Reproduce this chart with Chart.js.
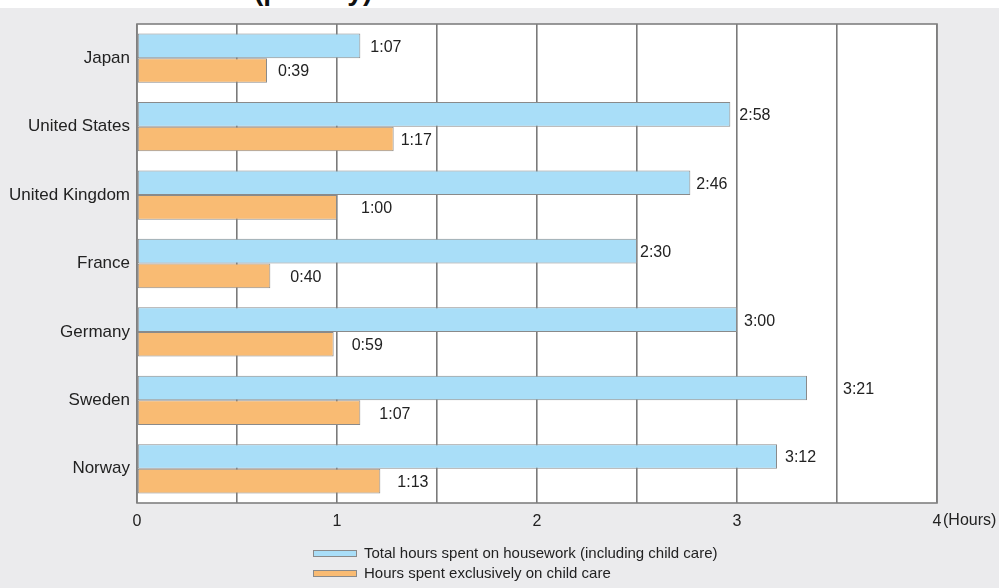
<!DOCTYPE html>
<html>
<head>
<meta charset="utf-8">
<script src="https://cdn.jsdelivr.net/npm/chart.js@4.4.1/dist/chart.umd.min.js"></script>
<style>
  html, body { margin: 0; padding: 0; background: #ffffff; }
  #wrap { position: relative; width: 999px; height: 588px; overflow: hidden; background: #ffffff; }
  #bg { position: absolute; left: 0; top: 8px; width: 999px; height: 580px; background: #ebebed; }
  #title { position: absolute; left: 254px; top: -24px; font: bold 28px "Liberation Sans", Arial, sans-serif; color: #111; white-space: nowrap; line-height: 30px; }
  #c { position: absolute; left: 0; top: 0; }
  .leg { position: absolute; left: 313px; font: 15px "Liberation Sans", Arial, sans-serif; color: #222; white-space: nowrap; height: 18px; line-height: 18px; }
  .leg span.box { position: absolute; left: 0; top: 6px; width: 42px; height: 5px; border: 1px solid #8a8a8a; }
  .leg span.txt { position: absolute; left: 51px; top: 0; }
</style>
</head>
<body>
<div id="wrap">
  <div id="bg"></div>
  <div id="title">(per day)</div>
  <canvas id="c" width="999" height="588"></canvas>
  <div class="leg" style="top:544px"><span class="box" style="background:#a9def8"></span><span class="txt" id="leg0"></span></div>
  <div class="leg" style="top:564px"><span class="box" style="background:#f9bb73"></span><span class="txt" id="leg1"></span></div>
</div>
<script>
const countries = ["Japan", "United States", "United Kingdom", "France", "Germany", "Sweden", "Norway"];
const seriesNames = ["Total hours spent on housework (including child care)", "Hours spent exclusively on child care"];
// values read as h:mm labels, stored in minutes
const totalMinutes = [67, 178, 166, 150, 180, 201, 192];
const childMinutes = [39, 77, 60, 40, 59, 67, 73];
const xTicks = [0, 1, 2, 3, 4];

document.getElementById('leg0').textContent = seriesNames[0];
document.getElementById('leg1').textContent = seriesNames[1];

function fmt(m) { const h = Math.floor(m / 60), mm = m % 60; return h + ':' + (mm < 10 ? '0' : '') + mm; }

const FONT = '"Liberation Sans", Arial, sans-serif';
// label gaps (px) after bar ends, per series
const labelGap = [[10, 9, 6, 3, 7, 36, 8], [11, 7, 24, 20, 18, 19, 17]];

const plotDecor = {
  id: 'plotDecor',
  beforeDraw(chart) {
    const a = chart.chartArea, ctx = chart.ctx;
    ctx.save();
    ctx.fillStyle = '#ffffff';
    ctx.fillRect(a.left, a.top, a.right - a.left, a.bottom - a.top);
    ctx.restore();
  },
  afterDatasetsDraw(chart) {
    const a = chart.chartArea, ctx = chart.ctx;
    ctx.save();
    ctx.strokeStyle = '#808080';
    ctx.lineWidth = 1.6;
    ctx.strokeRect(a.left, a.top, a.right - a.left, a.bottom - a.top);
    ctx.font = '16px ' + FONT;
    ctx.fillStyle = '#222';
    ctx.textBaseline = 'middle';
    ctx.textAlign = 'left';
    const sets = [totalMinutes, childMinutes];
    sets.forEach((arr, di) => {
      const meta = chart.getDatasetMeta(di);
      meta.data.forEach((bar, i) => {
        ctx.fillText(fmt(arr[i]), bar.x + labelGap[di][i], bar.y + 1.5);
      });
    });
    const xs = chart.scales.x;
    ctx.textAlign = 'left';
    ctx.fillText('(Hours)', xs.getPixelForValue(4) + 6, a.bottom + 18);
    ctx.restore();
  }
};

new Chart(document.getElementById('c'), {
  type: 'bar',
  data: {
    labels: countries,
    datasets: [
      { label: seriesNames[0], data: totalMinutes.map(m => m / 60), backgroundColor: '#a9def8', borderColor: '#8a8a8a', borderWidth: 1, borderSkipped: false },
      { label: seriesNames[1], data: childMinutes.map(m => m / 60), backgroundColor: '#f9bb73', borderColor: '#8a8a8a', borderWidth: 1, borderSkipped: false }
    ]
  },
  options: {
    indexAxis: 'y',
    responsive: false,
    animation: false,
    devicePixelRatio: 1,
    layout: { padding: { top: 24, right: 62, left: 0, bottom: 45 } },
    datasets: { bar: { categoryPercentage: 0.72, barPercentage: 1.0 } },
    plugins: { legend: { display: false }, tooltip: { enabled: false } },
    scales: {
      x: {
        min: 0, max: 4,
        afterFit(s) { s.height = 40; },
        ticks: {
          stepSize: 0.5,
          autoSkip: false,
          maxRotation: 0,
          padding: 9,
          color: '#222',
          font: { family: FONT, size: 16 },
          callback(v) { return xTicks.includes(v) ? String(v) : ''; }
        },
        grid: { color: '#7a7a7a', lineWidth: 1.6, drawTicks: false },
        border: { display: false }
      },
      y: {
        afterFit(s) { s.width = 137; },
        ticks: { padding: 7, color: '#222', font: { family: FONT, size: 17 } },
        grid: { display: false, drawTicks: false },
        border: { display: false }
      }
    }
  },
  plugins: [plotDecor]
});
</script>
</body>
</html>
